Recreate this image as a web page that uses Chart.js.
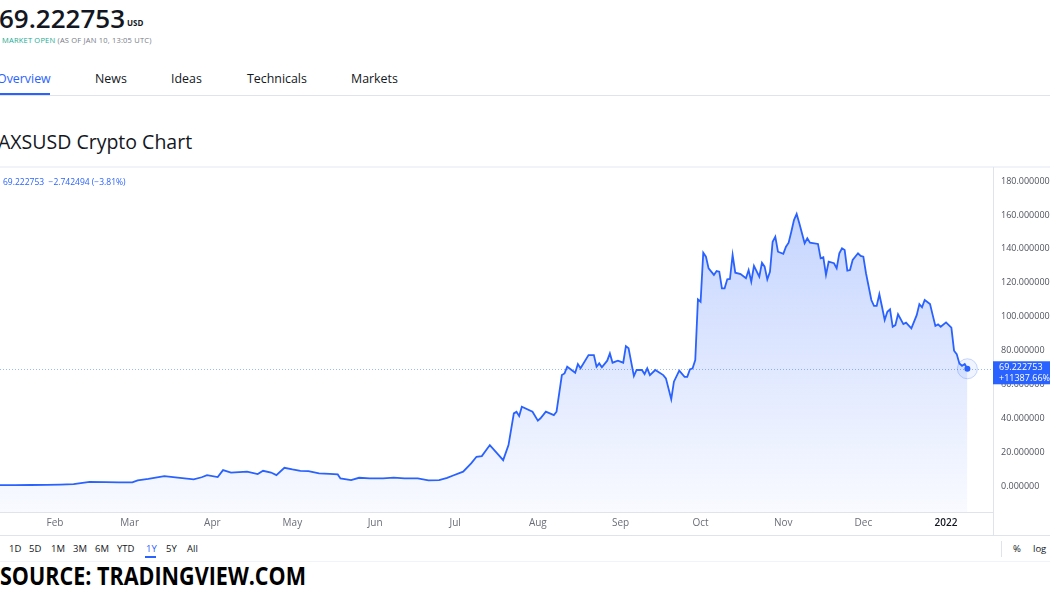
<!DOCTYPE html>
<html>
<head>
<meta charset="utf-8">
<script src="https://cdn.jsdelivr.net/npm/chart.js@4.4.0/dist/chart.umd.min.js"></script>
<style>
  html, body { margin:0; padding:0; background:#fff; width:1050px; height:600px; overflow:hidden; font-family:"Open Sans", "Noto Sans", sans-serif; color:#131722; }
  .abs { position:absolute; white-space:nowrap; }
  #price { left:-1px; top:0px; font-size:26px; font-weight:600; letter-spacing:0px; }
  #usd { left:127px; top:17px; font-size:8px; font-weight:700; }
  #status { left:2px; top:35px; font-size:7.5px; color:#787b86; letter-spacing:0.2px; }
  #status span { color:#22ab94; }
  .tab { top:70px; font-size:12.4px; color:#131722; }
  #tabline { left:0; top:95px; width:1050px; height:1px; background:#e0e3eb; }
  #tabul { left:0; top:93px; width:50px; height:2px; background:#2962ff; }
  #title { left:-2px; top:128px; font-size:19.5px; font-weight:400; }
  #topline { left:0; top:166px; width:1050px; height:2px; background:#f0f3fa; }
  #legendtxt { left:3px; top:176px; font-size:8.5px; color:#2962ff; }
  #vline { left:993px; top:167px; width:1px; height:368px; background:#e0e3eb; }
  #axisbottom { left:0; top:535px; width:1050px; height:1px; background:#e0e3eb; }
  #toolbarline { left:0; top:561px; width:1050px; height:1px; background:#f0f3fa; }
  #sep { left:1001px; top:541px; width:1px; height:16px; background:#e0e3eb; }
  .rng { top:542px; font-size:9.5px; color:#131722; }
  #ul1y { left:145px; top:556px; width:11px; height:2px; background:#2962ff; }
  #source { left:0px; top:558px; font-size:25px; font-weight:700; color:#000; transform-origin:0 0; }
  canvas { position:absolute; left:0; top:167px; }
</style>
</head>
<body>
<div class="abs" id="price">69.222753</div>
<div class="abs" id="usd">USD</div>
<div class="abs" id="status"><span>MARKET OPEN</span> (AS OF JAN 10, 13:05 UTC)</div>
<div class="abs tab" style="left:-3px;color:#2962ff">Overview</div>
<div class="abs tab" style="left:95px">News</div>
<div class="abs tab" style="left:171px">Ideas</div>
<div class="abs tab" style="left:247px">Technicals</div>
<div class="abs tab" style="left:351px">Markets</div>
<div class="abs" id="tabline"></div>
<div class="abs" id="tabul"></div>
<div class="abs" id="title">AXSUSD Crypto Chart</div>
<div class="abs" id="topline"></div>
<div class="abs" id="vline"></div>
<div class="abs" id="axisbottom"></div>
<canvas id="c" width="1050" height="368"></canvas>
<div class="abs" id="legendtxt">69.222753 &nbsp;−2.742494 (−3.81%)</div>
<div class="abs rng" style="left:9px">1D</div>
<div class="abs rng" style="left:29px">5D</div>
<div class="abs rng" style="left:51px">1M</div>
<div class="abs rng" style="left:73px">3M</div>
<div class="abs rng" style="left:95px">6M</div>
<div class="abs rng" style="left:117px">YTD</div>
<div class="abs rng" style="left:146px;color:#2962ff">1Y</div>
<div class="abs rng" style="left:166px">5Y</div>
<div class="abs rng" style="left:187px">All</div>
<div class="abs" id="ul1y"></div>
<div class="abs" id="sep"></div>
<div class="abs rng" style="left:1013px">%</div>
<div class="abs rng" style="left:1033px">log</div>
<div class="abs" id="toolbarline"></div>
<div class="abs" id="source">SOURCE: TRADINGVIEW.COM</div>

<script>
// ---- data (day index: days since 2021-01-01) ----
const days = [10,16,22,28,33,38,44,50,55,60,62,66,72,77,83,86,88,92,94,97,100,103,107,109,112,114,117,120,123,126,130,134,137,138,142,145,149,154,158,162,167,171,175,178,180,184,187,189,191,194,197,199,201,203,204,205,206,210,212,213,215,218,219,221,222,223,226,227,228,231,233,234,235,236,238,239,240,242,244,245,246,248,249,251,252,253,254,256,259,260,262,263,265,267,268,269,270,271,272,273,274,275,276,278,279,280,281,282,283,284,285,286,288,290,291,292,293,295,296,297,298,299,300,301,302,304,305,306,307,308,309,310,311,312,313,314,317,318,319,320,321,323,324,325,326,327,328,329,330,332,333,334,335,337,338,339,340,341,342,343,344,345,346,347,349,350,352,354,355,356,357,359,360,361,362,363,365,367,368,369,370,371,372,373];
const prices = [0.6026,0.55,0.62,0.70,0.85,1.1,2.5,2.3,2.2,2.2,3.4,4.2,5.9,5.0,4.0,5.2,6.5,5.3,9.4,7.9,8.2,8.5,7.1,9.0,8.0,6.5,10.8,9.8,9.0,8.8,7.5,7.2,6.9,4.5,3.5,4.9,4.6,4.5,5.0,4.6,4.5,3.4,3.5,4.8,6.1,8.5,13.4,17.3,17.7,24.2,18.9,15.3,24.2,42.9,43.9,41.3,46.8,43.9,38.6,40.0,43.9,41.9,43.9,65.5,66.5,70.4,66.9,72.0,69.5,77.3,77.3,70.4,72.4,70.1,74.0,78.3,72.8,74.0,72.8,82.6,81.3,64.9,68.5,68.5,66.1,69.5,65.5,68.5,65.5,63.6,51.2,61.6,68.1,64.5,64.5,68.9,69.5,74.4,110.2,108.8,137.7,135.4,128.5,124.6,126.9,126.5,116.7,116.7,122.0,122.2,136.4,125.9,125.1,122.6,127.5,120.6,129.9,123.6,131.8,129.5,122.0,126.5,144.2,147.2,138.3,137.0,141.3,143.6,150.1,157.0,160.6,155.1,149.2,143.3,146.2,143.6,142.9,134.4,135.0,124.6,132.4,131.5,128.5,137.4,140.3,139.3,127.1,127.5,133.4,137.4,135.8,135.4,125.6,109.8,106.3,106.3,113.2,105.8,98.0,102.9,104.3,94.0,95.0,101.4,95.6,96.4,93.1,100.9,107.4,105.5,109.8,107.4,100.9,94.5,95.4,94.0,96.6,93.5,79.9,77.9,72.4,71.0,72.0,69.222753];
const monthTickDays = [31,59,90,120,151,181,212,243,273,304,334,365];
const monthLabels = ['Feb','Mar','Apr','May','Jun','Jul','Aug','Sep','Oct','Nov','Dec','2022'];
const yTickValues = [0,20,40,60,80,100,120,140,160,180];
const lastPriceText = ['69.222753','+11387.66%'];

const FONT = '"Open Sans", "Noto Sans", sans-serif';
const BLUE = '#2962ff';

// fit the source caption to its width in the reference
(function(){
  const s = document.getElementById('source');
  const w = s.getBoundingClientRect().width;
  s.style.transform = 'scaleX(' + (306 / w) + ')';
})();

const markerPlugin = {
  id:'marker',
  afterDatasetsDraw(chart){
    const ctx = chart.ctx, ca = chart.chartArea;
    const meta = chart.getDatasetMeta(0);
    const last = meta.data[meta.data.length-1];
    const y = last.y;
    ctx.save();
    ctx.strokeStyle = 'rgba(41,98,255,0.45)';
    ctx.lineWidth = 1;
    ctx.setLineDash([1,2]);
    ctx.beginPath(); ctx.moveTo(ca.left, Math.round(y)+0.5); ctx.lineTo(ca.right, Math.round(y)+0.5); ctx.stroke();
    ctx.setLineDash([]);
    ctx.beginPath(); ctx.arc(last.x, y, 10, 0, Math.PI*2);
    ctx.fillStyle = 'rgba(41,98,255,0.07)'; ctx.fill();
    ctx.strokeStyle = 'rgba(41,98,255,0.25)'; ctx.stroke();
    ctx.beginPath(); ctx.arc(last.x, y, 3, 0, Math.PI*2);
    ctx.fillStyle = BLUE; ctx.fill();
    ctx.restore();
  },
  afterDraw(chart){
    const ctx = chart.ctx, ca = chart.chartArea;
    const meta = chart.getDatasetMeta(0);
    const y = meta.data[meta.data.length-1].y;
    ctx.save();
    ctx.fillStyle = BLUE;
    ctx.fillRect(ca.right, y - 7.5, chart.width - ca.right, 23);
    ctx.fillStyle = '#fff';
    ctx.font = '9px ' + FONT;
    ctx.textBaseline = 'middle';
    ctx.textAlign = 'left';
    ctx.fillText(lastPriceText[0], ca.right + 6, y - 1.5);
    ctx.fillText(lastPriceText[1], ca.right + 6, y + 10);
    ctx.restore();
  }
};

const zeroPad = (s)=>{ s.paddingTop = 0; s.paddingBottom = 0; s.paddingLeft = 0; s.paddingRight = 0; };

new Chart(document.getElementById('c'), {
  type:'line',
  data:{
    datasets:[{
      data: days.map((d,i)=>({x:d, y:prices[i]})),
      borderColor: BLUE,
      borderWidth: 1.8,
      pointRadius: 0,
      tension: 0,
      fill: 'start',
      backgroundColor: (c)=>{
        const ca = c.chart.chartArea;
        if(!ca) return 'rgba(41,98,255,0.15)';
        const g = c.chart.ctx.createLinearGradient(0, ca.top, 0, ca.bottom);
        g.addColorStop(0, 'rgba(41,98,255,0.30)');
        g.addColorStop(1, 'rgba(41,98,255,0.03)');
        return g;
      }
    }]
  },
  options:{
    responsive:false, animation:false, devicePixelRatio:1,
    layout:{padding:0, autoPadding:false},
    plugins:{legend:{display:false}, tooltip:{enabled:false}},
    scales:{
      x:{
        type:'linear', position:'bottom', min:10.4, max:382.6,
        afterBuildTicks:(s)=>{ s.ticks = monthTickDays.map(v=>({value:v})); },
        afterFit:(s)=>{ s.height = 23; zeroPad(s); },
        grid:{display:false, drawTicks:false},
        border:{display:true, color:'#e0e3eb'},
        ticks:{
          autoSkip:false, maxRotation:0, padding:5,
          font:(c)=>({family:FONT, size:10, weight: c.index===monthLabels.length-1 ? '600' : '400'}),
          color:(c)=> c.index===monthLabels.length-1 ? '#131722' : '#6a6d78',
          callback:(v,i)=>monthLabels[i]
        }
      },
      y:{
        position:'right', min:-15.3, max:188.3,
        afterBuildTicks:(s)=>{ s.ticks = yTickValues.map(v=>({value:v})); },
        afterFit:(s)=>{ s.width = 57; zeroPad(s); },
        grid:{display:false, drawTicks:false},
        border:{display:true, color:'#e0e3eb'},
        ticks:{padding:8, crossAlign:'near', font:{family:FONT, size:9}, color:'#50535e',
          callback:(v)=>Number(v).toFixed(6)}
      }
    }
  },
  plugins:[markerPlugin]
});
</script>
</body>
</html>
